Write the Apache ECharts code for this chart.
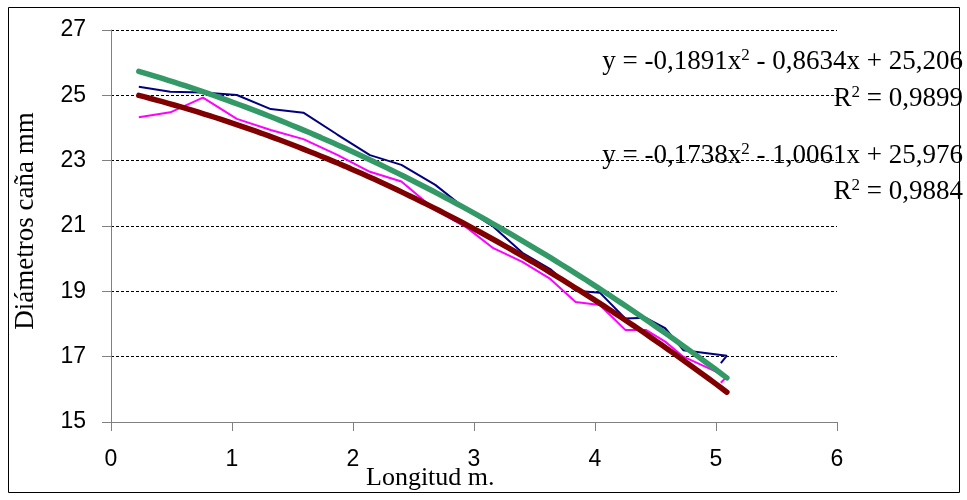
<!DOCTYPE html>
<html>
<head>
<meta charset="utf-8">
<script src="https://cdn.jsdelivr.net/npm/echarts@6/dist/echarts.min.js"></script>
<style>
  html, body { margin: 0; padding: 0; background: #fff; }
  #chart { width: 967px; height: 500px; }
</style>
</head>
<body>
<div id="chart"></div>
<script>
// Longitud (m) at each measuring point
const longitud = [0.23, 0.49, 0.76, 1.04, 1.32, 1.59, 1.87, 2.14, 2.40, 2.68, 2.94, 3.16, 3.40, 3.63, 3.84, 4.04, 4.25, 4.42, 4.58, 4.73, 5.09, 5.04];
// Diámetro de caña (mm), two measured canes
const diametroA = [25.26, 25.11, 25.09, 25.01, 24.58, 24.47, 23.80, 23.17, 22.87, 22.26, 21.50, 20.98, 20.18, 19.68, 19.02, 18.96, 18.17, 18.19, 17.87, 17.20, 17.03, 16.80];
const diametroB = [24.33, 24.48, 24.93, 24.28, 23.94, 23.66, 23.18, 22.66, 22.36, 21.49, 20.95, 20.32, 19.90, 19.38, 18.67, 18.58, 17.82, 17.82, 17.46, 17.00, 16.39, 16.20];
// Polynomial trend lines (a, b, c for y = a·x² + b·x + c) and their R²
const ajusteB = [-0.1891, -0.8634, 25.206];
const r2B = 0.9899;
const ajusteA = [-0.1738, -1.0061, 25.976];
const r2A = 0.9884;
// Trend line span
const tendMin = 0.23, tendMax = 5.09;
// Axis ticks
const xTicks = [0, 1, 2, 3, 4, 5, 6];
const yTicks = [15, 17, 19, 21, 23, 25, 27];

const pairs = (xs, ys) => xs.map((x, i) => [x, ys[i]]);
function tendencia(c) {
  const pts = [];
  const n = 100;
  for (let i = 0; i <= n; i++) {
    const x = tendMin + (tendMax - tendMin) * i / n;
    pts.push([x, c[0] * x * x + c[1] * x + c[2]]);
  }
  return pts;
}
const fmt = (v, d) => Math.abs(v).toFixed(d).replace('.', ',');
function ecuacion(c) {
  const s1 = c[1] < 0 ? ' - ' : ' + ';
  const s2 = c[2] < 0 ? ' - ' : ' + ';
  return '{t|y = ' + (c[0] < 0 ? '-' : '') + fmt(c[0], 4) + 'x}{s|2}{t|' + s1 + fmt(c[1], 4) + 'x' + s2 + fmt(c[2], 3) + '}';
}
const r2Text = r => '{t|R}{s|2}{t| = ' + fmt(r, 4) + '}';

const serif = '"Liberation Serif", "Times New Roman", serif';
const sans = '"Liberation Sans", Arial, sans-serif';
const rich = {
  t: { fontFamily: serif, fontSize: 27, color: '#000', lineHeight: 32 },
  s: { fontFamily: serif, fontSize: 17, color: '#000', verticalAlign: 'top', lineHeight: 32, padding: [1, 0, 0, 0] }
};

const chart = echarts.init(document.getElementById('chart'), null, { renderer: 'canvas' });
chart.setOption({
  animation: false,
  backgroundColor: '#fff',
  grid: { left: 111, right: 130, top: 30, bottom: 78 },
  xAxis: {
    type: 'value',
    min: xTicks[0], max: xTicks[xTicks.length - 1], interval: 1,
    axisLine: { lineStyle: { color: '#808080', width: 1 } },
    axisTick: { show: true, length: 9, inside: false, lineStyle: { color: '#808080' } },
    axisLabel: { fontFamily: sans, fontSize: 23, color: '#000', margin: 26 },
    splitLine: { show: false }
  },
  yAxis: {
    type: 'value',
    min: yTicks[0], max: yTicks[yTicks.length - 1], interval: 2,
    axisLine: { show: true, lineStyle: { color: '#808080', width: 1 } },
    axisTick: { show: true, length: 9, lineStyle: { color: '#808080' } },
    axisLabel: { fontFamily: sans, fontSize: 23, color: '#000', margin: 25 },
    splitLine: { show: true, lineStyle: { color: '#000', type: [3, 2], width: 1 } }
  },
  series: [
    { type: 'line', data: pairs(longitud, diametroA), showSymbol: false, symbol: 'none',
      lineStyle: { color: '#000080', width: 2 }, z: 2 },
    { type: 'line', data: pairs(longitud, diametroB), showSymbol: false, symbol: 'none',
      lineStyle: { color: '#FF00FF', width: 2 }, z: 2 },
    { type: 'line', data: tendencia(ajusteB), showSymbol: false, symbol: 'none', smooth: false,
      lineStyle: { color: '#800000', width: 5.5, cap: 'round' }, z: 3 },
    { type: 'line', data: tendencia(ajusteA), showSymbol: false, symbol: 'none', smooth: false,
      lineStyle: { color: '#339966', width: 5.5, cap: 'round' }, z: 4 }
  ],
  graphic: [
    { type: 'rect', silent: true, z: 0,
      shape: { x: 8.5, y: 7.5, width: 951, height: 485 },
      style: { fill: 'none', stroke: '#000', lineWidth: 1 } },
    { type: 'text', x: 963, y: 62, z: 10,
      style: { text: ecuacion(ajusteB), rich: rich, align: 'right', verticalAlign: 'middle' } },
    { type: 'text', x: 963, y: 99, z: 10,
      style: { text: r2Text(r2B), rich: rich, align: 'right', verticalAlign: 'middle' } },
    { type: 'text', x: 963, y: 156, z: 10,
      style: { text: ecuacion(ajusteA), rich: rich, align: 'right', verticalAlign: 'middle' } },
    { type: 'text', x: 963, y: 192, z: 10,
      style: { text: r2Text(r2A), rich: rich, align: 'right', verticalAlign: 'middle' } },
    { type: 'text', x: 366, y: 478, z: 10,
      style: { text: 'Longitud m.', font: '26px ' + serif, fill: '#000', align: 'left', verticalAlign: 'middle' } },
    { type: 'text', x: 26, y: 221, rotation: Math.PI / 2, z: 10,
      style: { text: 'Diámetros caña mm', font: '27px ' + serif, fill: '#000', align: 'center', verticalAlign: 'middle' } }
  ]
});
</script>
</body>
</html>
